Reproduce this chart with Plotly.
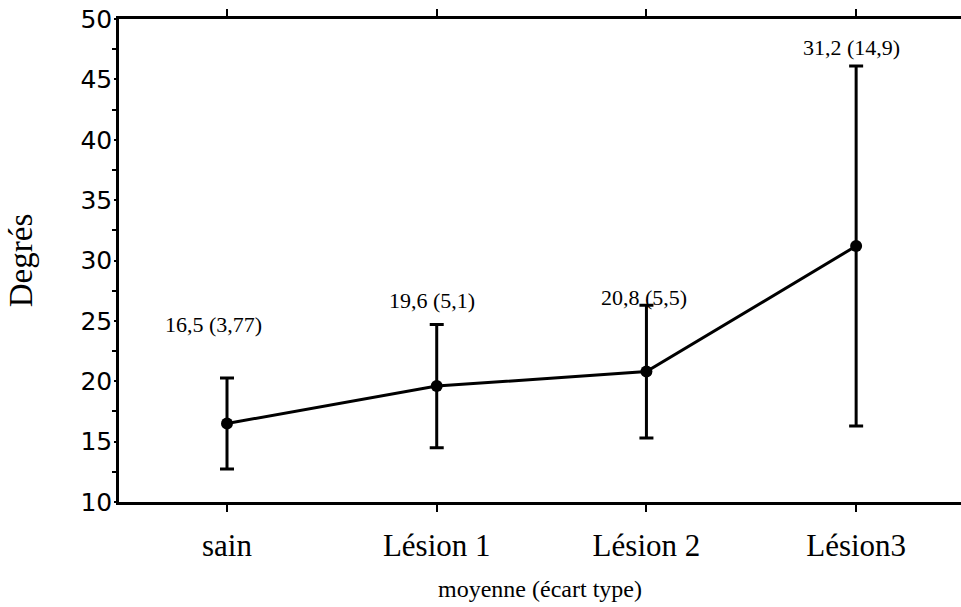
import plotly.graph_objects as go

categories = ["sain", "Lésion 1", "Lésion 2", "Lésion3"]
means = [16.5, 19.6, 20.8, 31.2]
sds = [3.77, 5.1, 5.5, 14.9]
label_texts = ["16,5 (3,77)", "19,6 (5,1)", "20,8 (5,5)", "31,2 (14,9)"]
label_y = [24.7, 26.7, 26.9, 47.6]
label_xshift = [-14, -5, -2, -5]

fig = go.Figure()
fig.add_trace(go.Scatter(
    x=categories, y=means,
    mode="lines+markers",
    line=dict(color="black", width=3),
    marker=dict(color="black", size=12),
    error_y=dict(type="data", array=sds, visible=True, color="black", thickness=3, width=7),
    showlegend=False,
))

for cat, txt, yy, xs in zip(categories, label_texts, label_y, label_xshift):
    fig.add_annotation(x=cat, y=yy, text=txt, showarrow=False, xshift=xs,
                       font=dict(family="Liberation Serif", size=22, color="black"))

fig.update_layout(
    width=961, height=607,
    margin=dict(l=119, r=0, t=19, b=105),
    paper_bgcolor="white", plot_bgcolor="white",
    xaxis=dict(
        type="category", range=[-0.515, 3.5], automargin=False,
        showline=True, linecolor="black", linewidth=2.5, mirror="ticks",
        ticks="outside", ticklen=7, tickwidth=2, tickcolor="black",
        showgrid=False, zeroline=False,
        tickfont=dict(family="Liberation Serif", size=31, color="black"),
        ticklabelstandoff=7,
        title=dict(text="moyenne (écart type)", standoff=19,
                   font=dict(family="Liberation Serif", size=24, color="black")),
    ),
    yaxis=dict(
        range=[10, 50], dtick=5, tick0=10, automargin=False,
        showline=True, linecolor="black", linewidth=2.5,
        ticks="outside", ticklen=2, tickwidth=2, tickcolor="black",
        minor=dict(ticks="outside", dtick=2.5, tick0=10, ticklen=4, tickwidth=2, tickcolor="black"),
        showgrid=False, zeroline=False,
        tickfont=dict(family="DejaVu Sans", size=25, color="black"),
        ticklabelstandoff=-3,
        title=dict(text="Degrés", standoff=38,
                   font=dict(family="Liberation Serif", size=33, color="black")),
    ),
)

fig.write_html("out.html", config={"displayModeBar": False},
               post_script="document.body.style.margin='0';document.body.style.overflow='hidden';")
